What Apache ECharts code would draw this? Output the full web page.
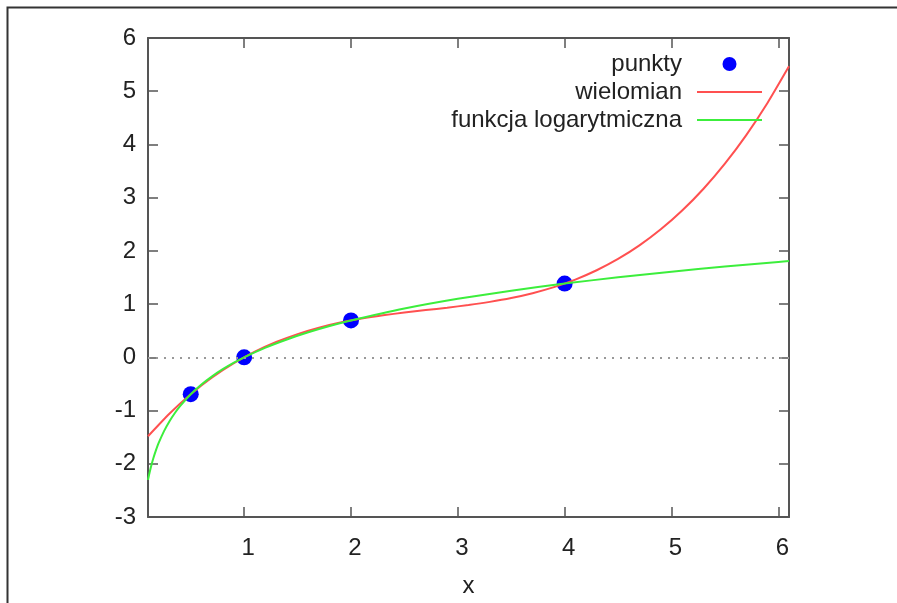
<!DOCTYPE html>
<html>
<head>
<meta charset="utf-8">
<script src="https://cdn.jsdelivr.net/npm/echarts@6/dist/echarts.min.js"></script>
<style>html,body{margin:0;padding:0;background:#fff}#c{width:897px;height:603px}</style>
</head>
<body>
<div id="c"></div>
<script>
const xTicks = [1, 2, 3, 4, 5, 6];
const pointX = [0.5, 1, 2, 4];
const pointY = [-0.693, 0, 0.693, 1.386];
const polyX = [0.1,0.3,0.5,0.7,0.9,1.1,1.3,1.5,1.7,1.9,2.1,2.3,2.5,2.7,2.9,3.1,3.3,3.5,3.7,3.9,4.1,4.3,4.5,4.7,4.9,5.1,5.3,5.5,5.7,5.9,6.1];
const polyY = [-1.482,-1.059,-0.693,-0.380,-0.116,0.106,0.288,0.437,0.557,0.653,0.729,0.790,0.842,0.888,0.933,0.983,1.042,1.114,1.205,1.319,1.461,1.636,1.848,2.103,2.405,2.758,3.168,3.639,4.176,4.784,5.468];
const logX = [0.1,0.11,0.12,0.13,0.15,0.17,0.2,0.25,0.3,0.35,0.4,0.5,0.6,0.7,0.8,0.9,1,1.2,1.4,1.6,1.8,2,2.5,3,3.5,4,4.5,5,5.5,6,6.1];
const logY = [-2.303,-2.207,-2.120,-2.040,-1.897,-1.772,-1.609,-1.386,-1.204,-1.050,-0.916,-0.693,-0.511,-0.357,-0.223,-0.105,0,0.182,0.336,0.470,0.588,0.693,0.916,1.099,1.253,1.386,1.504,1.609,1.705,1.792,1.808];
const names = ['punkty', 'wielomian', 'funkcja logarytmiczna'];

const zip = (a, b) => a.map((v, i) => [v, b[i]]);
const FONT = 'Liberation Sans, Arial, sans-serif';
const FS = 24;
const TXT = '#222';
const axisLine = { onZero: false, lineStyle: { color: '#555', width: 2 } };
const tick = { inside: true, length: 10, lineStyle: { color: '#555', width: 1.5 } };
const lineIcon = 'path://M0 0H65V2H0Z';
const chart = echarts.init(document.getElementById('c'));
chart.setOption({
  animation: false,
  backgroundColor: '#fff',
  textStyle: { fontFamily: FONT },
  grid: { left: 148, right: 108, top: 38, bottom: 85, containLabel: false },
  legend: {
    data: [{ name: names[0], icon: 'circle' }, { name: names[1], icon: lineIcon }, { name: names[2], icon: lineIcon }],
    orient: 'vertical', align: 'right', right: 135, top: 52, padding: 0,
    itemWidth: 65, itemHeight: 14, itemGap: 4,
    textStyle: { fontSize: FS, color: TXT, fontFamily: FONT, lineHeight: 24, padding: [0, 10, 0, 0] }
  },
  xAxis: [{
    type: 'value', min: 0.1, max: 6.1, position: 'bottom',
    name: 'x', nameLocation: 'middle', nameGap: 57,
    nameTextStyle: { fontSize: FS, color: TXT, fontFamily: FONT },
    axisLine: axisLine, splitLine: { show: false },
    axisTick: Object.assign({ customValues: xTicks }, tick),
    axisLabel: { fontSize: FS, color: TXT, margin: 19, padding: [0, 0, 0, 8], customValues: xTicks, fontFamily: FONT }
  }, {
    type: 'value', min: 0.1, max: 6.1, position: 'top',
    axisLine: axisLine, splitLine: { show: false },
    axisTick: Object.assign({ customValues: xTicks }, tick),
    axisLabel: { show: false }
  }],
  yAxis: [{
    type: 'value', min: -3, max: 6, interval: 1, position: 'left',
    axisLine: Object.assign({ show: true }, axisLine), splitLine: { show: false },
    axisTick: Object.assign({ show: true }, tick),
    axisLabel: { fontSize: FS, color: TXT, margin: 12, fontFamily: FONT }
  }, {
    type: 'value', min: -3, max: 6, interval: 1, position: 'right',
    axisLine: Object.assign({ show: true }, axisLine), splitLine: { show: false },
    axisTick: Object.assign({ show: true }, tick),
    axisLabel: { show: false }
  }],
  series: [{
    name: names[0], type: 'scatter', symbol: 'circle', symbolSize: 16,
    itemStyle: { color: '#0000ff', opacity: 1 },
    data: zip(pointX, pointY),
    markLine: {
      silent: true, symbol: 'none', label: { show: false },
      lineStyle: { color: '#999', type: [2, 6], width: 2 },
      data: [{ yAxis: 0 }]
    }
  }, {
    name: names[1], type: 'line', showSymbol: false, symbol: 'none', smooth: 0.2,
    lineStyle: { color: '#ff5050', width: 2 }, itemStyle: { color: '#ff5050' },
    data: zip(polyX, polyY)
  }, {
    name: names[2], type: 'line', showSymbol: false, symbol: 'none', smooth: 0.2,
    lineStyle: { color: '#3cee3c', width: 2 }, itemStyle: { color: '#3cee3c' },
    data: zip(logX, logY)
  }],
  graphic: [{
    type: 'polyline', silent: true,
    shape: { points: [[7.5, 603], [7.5, 7.5], [897, 7.5]] },
    style: { stroke: '#333', lineWidth: 2, fill: null }
  }]
});
</script>
</body>
</html>
